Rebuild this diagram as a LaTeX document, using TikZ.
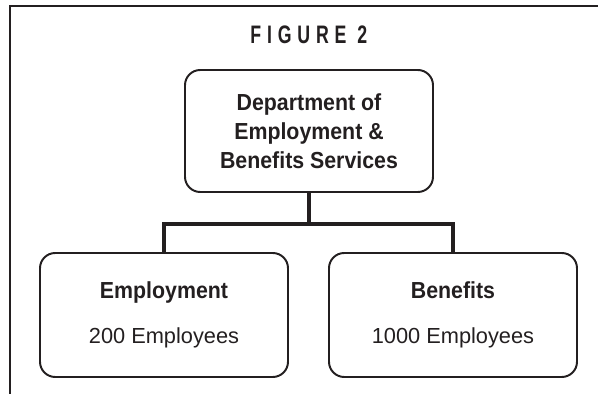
\documentclass[tikz,border=0pt]{standalone}
\usepackage{fontspec}
\setmainfont{Liberation Sans}[BoldFeatures={FakeStretch=0.92}]
\newfontfamily\titlefont[FakeStretch=0.7,LetterSpace=23]{Liberation Sans Bold}
\definecolor{ink}{HTML}{231F20}
\tikzset{
  unitbox/.style={draw=ink, line width=1.4pt, rounded corners=0.38cm, minimum width=6.2cm, align=center, text=ink, font=\fontsize{15.5}{20.6}\selectfont},
  head/.style={font=\fontsize{16.5}{20.6}\selectfont\bfseries},
  bus/.style={draw=ink, line width=3.5pt}
}
\begin{document}
\begin{tikzpicture}
\useasboundingbox (0,0) rectangle (14.95,9.85);

 % frame
  \draw[ink, line width=1.4pt] (0.25,0) -- (0.25,9.7) -- (14.95,9.7);
\node[text=ink, font=\titlefont\fontsize{18}{20}\selectfont] (title) at (7.72,8.99) {FIGURE 2};

  % boxes
\node[unitbox, head, minimum height=3.05cm] (dept) at (7.725,6.575) {Department of\\Employment \&\\Benefits Services};
\node[unitbox, minimum height=3.1cm] (emp) at (4.1,1.975) {{\fontsize{16.5}{18}\selectfont\bfseries Employment}\\[11pt]200 Employees};
\node[unitbox, minimum height=3.1cm] (ben) at (11.325,1.975) {{\fontsize{16.5}{18}\selectfont\bfseries Benefits}\\[11pt]1000 Employees};

  % lines
\draw[bus] (dept.south) -- ++(0,-0.775) coordinate (hub);
\draw[bus] (emp.north) |- (hub) -| (ben.north);
\end{tikzpicture}
\end{document}
